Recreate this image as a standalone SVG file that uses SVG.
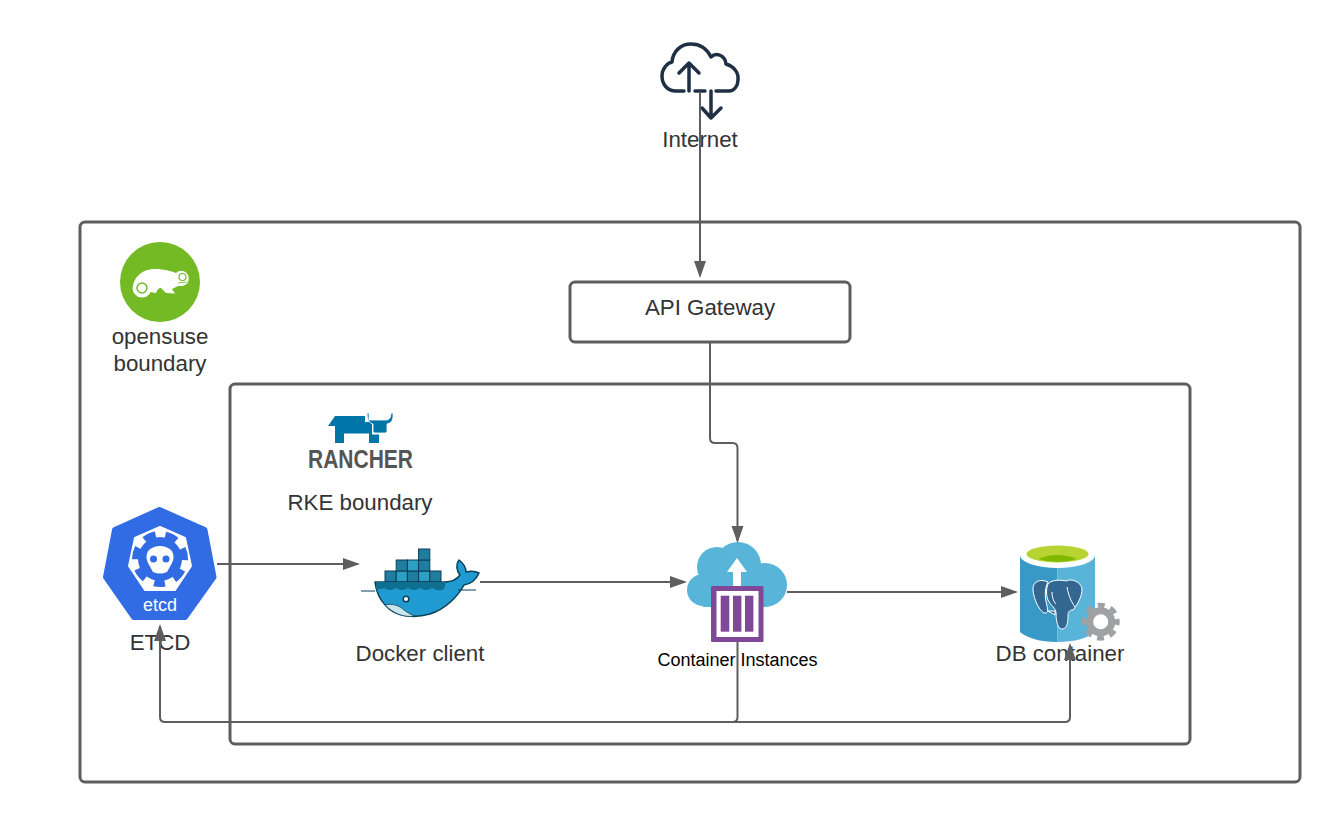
<svg xmlns="http://www.w3.org/2000/svg" width="1340" height="822" viewBox="0 0 1340 822">
<style>
text{font-family:"Liberation Sans",Arial,sans-serif;font-size:22.300px;fill:#333;text-anchor:middle}
.frame{fill:none;stroke:#5e5e5e;stroke-width:3}
.conn{fill:none;stroke:#5e5e5e;stroke-width:2}
.box{fill:#1f7d9f;stroke:#0c3f57;stroke-width:1}
.box2{fill:#2c9fc4;stroke:#0c3f57;stroke-width:1}
</style>
<defs>
<marker id="arrow" markerUnits="userSpaceOnUse" markerWidth="18" markerHeight="14" refX="15" refY="7" orient="auto">
<path d="M0 1 L17 7 L0 13 Z" fill="#5e5e5e"/>
</marker>
</defs>
<rect width="1340" height="822" fill="#fff"/>
<g id="opensuse-boundary">
<rect class="frame" x="80" y="222" width="1220" height="560" rx="5"/>
<circle cx="160" cy="282" r="40" fill="#73ba25"/>
<path d="M133 288 C133 279 140 271 150 269.500 C160 268 170 271 176 273 C180 269 186 271 188 275 C190 280 188 285 182 286 L178 286 L172 289 L175 293.500 L166 293 L161 288 C158 288 157 290 156 293 L150 292 L146 297 L138 297 Z" fill="#fff"/>
<circle cx="142" cy="288" r="9.500" fill="#fff"/>
<circle cx="142" cy="288" r="5" fill="none" stroke="#73ba25" stroke-width="1.500"/>
<circle cx="182.500" cy="277" r="3.500" fill="none" stroke="#73ba25" stroke-width="1.200"/>
<path d="M178 283 L187 282" stroke="#73ba25" stroke-width="0.800" fill="none"/>
<text x="160" y="343.500">opensuse</text>
<text x="160" y="370.500">boundary</text>
</g>
<g id="rke-boundary">
<rect class="frame" x="230" y="384" width="960" height="360" rx="5"/>
<path d="M328 426 L335 416 H365 V422 H372 V434.500 H379 V443 H369 V433.500 H344 V443 H335 V426 Z" fill="#0075a8"/>
<path d="M367 413 H369 V420 H386 Q391 420 391 413 H393 Q394 423 387 424 V431 Q387 433 385 433 H375 Q373 433 373 431 V424 Q367 423 367 413 Z" fill="#0075a8" stroke="#fff" stroke-width="0.800"/>
<text x="360.500" y="467.500" textLength="105" lengthAdjust="spacingAndGlyphs" style="font-size:25px;font-weight:700;fill:#555">RANCHER</text>
<text x="360" y="509.500">RKE boundary</text>
</g>
<g id="internet">
<g fill="none" stroke="#1f3044" stroke-width="3.500" stroke-linecap="round" stroke-linejoin="round">
<path d="M684 91 H676 C667 91 662 84 662 76 C662 69 667 63 672 62 C673 51 681 44 691 44 C700 44 707 49 711 57 C716 52 725 55 726 64 C733 66 739 72 738 80 C738 86 734 91 729 91 H716"/>
<path d="M695 91 H705"/>
<path d="M689 91 V63 M679 73 L689 63 L699 73"/>
<path d="M711 91 V118 M702 108 L711 118 L721 108"/>
</g>
<text x="700" y="146.500">Internet</text>
</g>
<g id="api-gateway">
<rect class="frame" x="570" y="282" width="280" height="60" rx="5"/>
<text x="710" y="315">API Gateway</text>
</g>
<g id="etcd">
<path d="M159.500 510 L204.500 530 L213.500 577 L185 617 H134 L106 577 L115 530 Z" fill="#326ce5" stroke="#326ce5" stroke-width="6" stroke-linejoin="round"/>
<path d="M160 527 L185 538 L191 566 L175 590 H145 L129 566 L135 538 Z" fill="#fff" stroke="#fff" stroke-width="2" stroke-linejoin="round"/>
<circle cx="160" cy="559" r="22" fill="#326ce5"/>
<circle cx="160" cy="559" r="24.500" fill="none" stroke="#326ce5" stroke-width="7" stroke-dasharray="12 9.990" stroke-dashoffset="6" transform="rotate(90 160 559)"/>
<path d="M160 546 Q167 546 172 551 Q175 557 172 563 L167 572 Q160 575 153 572 L148 563 Q145 557 148 551 Q153 546 160 546 Z" fill="#fff"/>
<circle cx="153.500" cy="559" r="3.500" fill="#326ce5"/>
<circle cx="166" cy="559" r="3.500" fill="#326ce5"/>
<text x="160" y="611" style="font-size:18px;fill:#fff">etcd</text>
<text x="160" y="650">ETCD</text>
</g>
<g id="docker-client">
<rect class="box" x="385" y="571" width="11.200" height="11"/>
<rect class="box2" x="396.200" y="571" width="11.200" height="11"/>
<rect class="box" x="407.400" y="571" width="11.200" height="11"/>
<rect class="box2" x="418.600" y="571" width="11.200" height="11"/>
<rect class="box" x="429.800" y="571" width="11.200" height="11"/>
<rect class="box" x="396.200" y="560" width="11.200" height="11"/>
<rect class="box2" x="407.400" y="560" width="11.200" height="11"/>
<rect class="box" x="418.600" y="560" width="11.200" height="11"/>
<rect class="box" x="418.600" y="549" width="11.200" height="11"/>
<path d="M375 582 H445 C452 582 457 579 460 575 C456 570 456 564 459 560 C463 563 466 567 466 572 C470 571 475 571 479 573 C476 580 470 584 464 585 C458 596 446 609 430 614 C412 619 395 616 386 606 C379 599 376 591 375 582 Z" fill="#1f9bd1" stroke="#0c3f57" stroke-width="1.500" stroke-linejoin="round"/>
<path d="M376 582 H446 L444 589 Q438 592 432 588 Q426 592 420 588 Q414 592 408 588 Q402 592 396 588 Q390 592 384 588 Q380 590 376 589 Z" fill="#0e6f90"/>
<path d="M385 605 C393 603 400 606 404 610 C408 613 412 615 415 616 C403 618 393 613 385 605 Z" fill="#c9e6ea" stroke="#0c3f57" stroke-width="0.800"/>
<circle cx="406" cy="599" r="2.800" fill="#fff" stroke="#0c3f57" stroke-width="1.500"/>
<path d="M361 591 H375 M458 590 H476" stroke="#0c3f57" stroke-width="1" fill="none"/>
<text x="420" y="661">Docker client</text>
</g>
<g id="container-instances">
<g fill="#59b4d9">
<circle cx="738" cy="565" r="23"/>
<circle cx="717" cy="567" r="20"/>
<circle cx="703" cy="590" r="16"/>
<circle cx="765" cy="585" r="22"/>
<rect x="703" y="575" width="62" height="32"/>
</g>
<path d="M737 558 L747 572 H741 V590 H733 V572 H727 Z" fill="#fff"/>
<rect x="711" y="586" width="52.500" height="56" rx="1" fill="#804998"/>
<rect x="716.500" y="591" width="42" height="46" fill="#fff"/>
<g fill="#804998">
<rect x="720.700" y="595.700" width="8.600" height="36"/>
<rect x="733" y="595.700" width="8.400" height="36"/>
<rect x="745" y="595.700" width="8.400" height="36"/>
</g>
<text x="737.500" y="665.500" style="font-size:18px;fill:#000">Container Instances</text>
</g>
<g id="db-container">
<path d="M1020 555 H1057.500 V642 C1040 642 1027 638 1020 632 Z" fill="#3999c6"/>
<path d="M1057.500 555 H1095 V632 C1088 638 1075 642 1057.500 642 Z" fill="#59b4d9"/>
<ellipse cx="1057.500" cy="555" rx="37.500" ry="13" fill="#fff"/>
<ellipse cx="1057.500" cy="554" rx="31" ry="8.500" fill="#b8d432"/>
<path d="M1038 559 Q1057.500 551 1077 559 Q1057.500 565 1038 559 Z" fill="#7fba00"/>
<g stroke="#fff" stroke-width="1" fill="#336791" stroke-linejoin="round">
<path d="M1048 582 C1040 578 1032 582 1033 590 C1034 600 1039 610 1044 613 C1048 614 1048 610 1047 606 C1045 598 1044 590 1048 582 Z"/>
<path d="M1048 584 C1052 579 1062 580 1066 581 C1072 578 1081 582 1082 589 C1082 596 1078 604 1073 610 C1069 610 1068 612 1068 616 C1068 622 1067 628 1063 629 C1058 630 1056 622 1056 613 C1056 608 1051 606 1048 600 C1046 595 1046 589 1048 584 Z"/>
<path d="M1067 587 C1068 593 1070 600 1075 607 M1052 592 C1052 598 1054 602 1056 604" fill="none"/>
<path d="M1048 611 L1055 611 L1055 615 Z"/>
</g>
<circle cx="1100.700" cy="621.700" r="11" fill="#fff" stroke="#a0a1a2" stroke-width="7"/>
<circle cx="1100.700" cy="621.700" r="16.500" fill="none" stroke="#a0a1a2" stroke-width="5" stroke-dasharray="7 5.960" stroke-dashoffset="3.500"/>
<text x="1060" y="661">DB container</text>
</g>
<g id="connectors">
<path class="conn" d="M700 92 V276" marker-end="url(#arrow)"/>
<path class="conn" d="M710 342 V438 Q710 443 715 443 H732.500 Q737.500 443 737.500 448 V541" marker-end="url(#arrow)"/>
<path class="conn" d="M217 564 H358" marker-end="url(#arrow)"/>
<path class="conn" d="M480 582 H685" marker-end="url(#arrow)"/>
<path class="conn" d="M787 592 H1016" marker-end="url(#arrow)"/>
<path class="conn" d="M737.500 642 V717 Q737.500 722 732.500 722 H165 Q160 722 160 717 V626" marker-end="url(#arrow)"/>
<path class="conn" d="M732.500 722 H1065 Q1070 722 1070 717 V645" marker-end="url(#arrow)"/>
</g>
</svg>
